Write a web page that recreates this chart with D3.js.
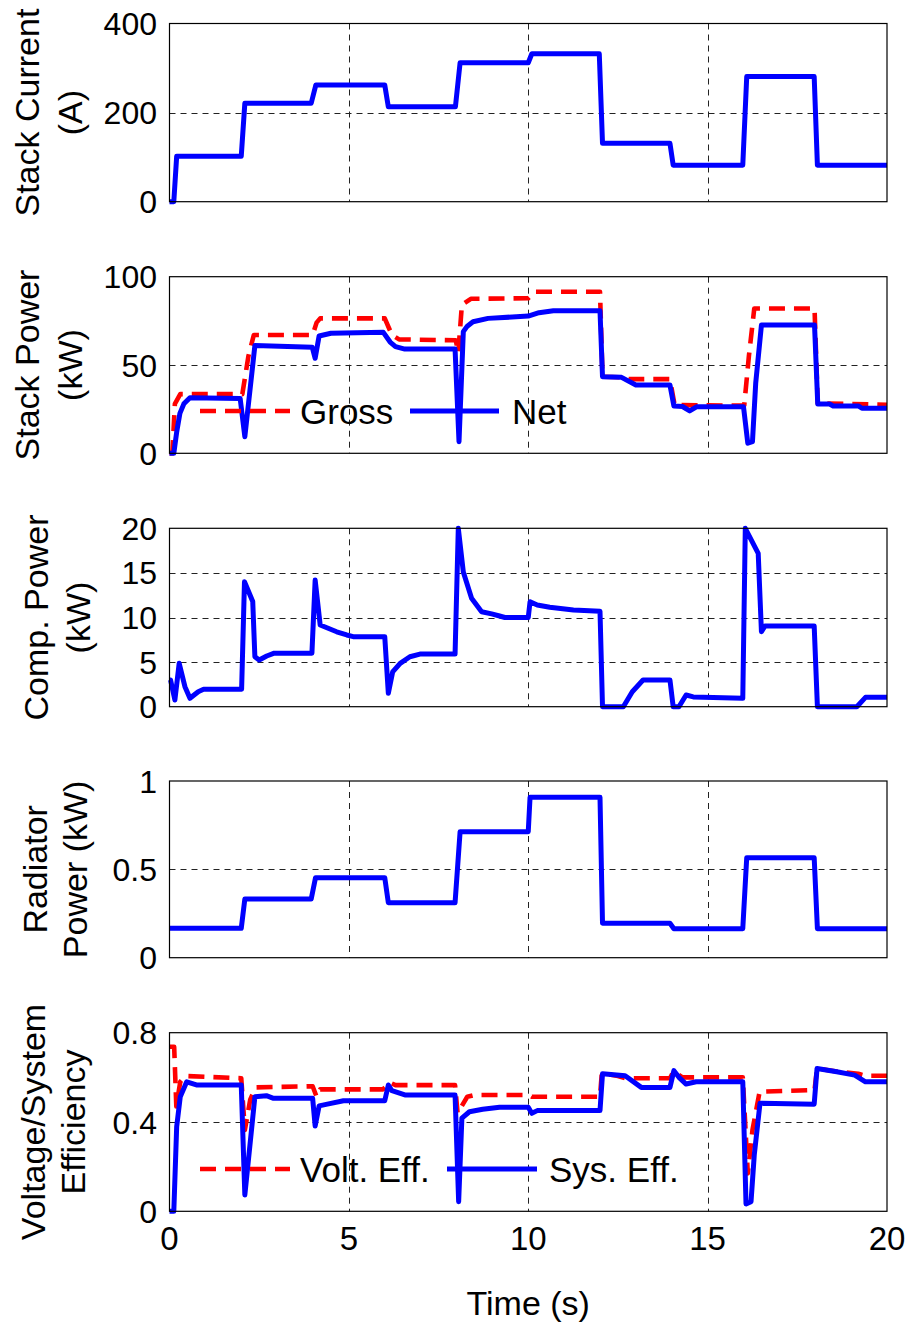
<!DOCTYPE html>
<html>
<head>
<meta charset="utf-8">
<script src="https://cdn.jsdelivr.net/npm/d3@7"></script>
<style>
body { margin: 0; background: #fff; }
svg text { font-family: "Liberation Sans", Arial, sans-serif; fill: #000; }
</style>
</head>
<body>
<svg id="chart" width="911" height="1327"></svg>
<script>

// ---- data ----
var timeTicks = [0, 5, 10, 15, 20];

var curT = [0, 0.12, 0.2, 2.0, 2.1, 3.95, 4.08, 6.0, 6.1, 7.97, 8.1, 10.0, 10.1, 11.98, 12.07, 13.95, 14.04, 15.98, 16.09, 17.97, 18.06, 20];
var curA = [0, 0, 102, 102, 221, 221, 262, 262, 213, 213, 312, 312, 332, 332, 131, 131, 82, 82, 281, 281, 82, 82];

var grossT = [0, 0.08, 0.15, 0.3, 2.03, 2.2, 2.35, 3.99, 4.1, 4.2, 6.0, 6.2, 6.4, 7.98, 8.05, 8.15, 8.4, 10.0, 10.2, 12.0, 12.07, 12.6, 12.8, 13.95, 14.08, 16.02, 16.15, 16.3, 17.98, 18.07, 20];
var grossP = [0, 0, 28, 33.5, 33.5, 55, 67, 67, 74, 76.4, 76.4, 67, 64.5, 64, 57, 84, 87.5, 87.8, 91.5, 91.5, 43.4, 43, 42, 42, 27.3, 27, 55, 82, 82, 28.3, 27.5];

var netT = [0, 0.12, 0.2, 0.29, 0.4, 0.57, 1.97, 2.1, 2.38, 3.98, 4.06, 4.17, 4.5, 5.96, 6.15, 6.3, 6.56, 7.96, 8.07, 8.19, 8.3, 8.46, 8.88, 10.0, 10.3, 10.7, 12.0, 12.07, 12.6, 13.0, 13.95, 14.06, 14.3, 14.5, 14.7, 16.0, 16.12, 16.25, 16.34, 16.5, 17.98, 18.07, 18.4, 18.5, 19.2, 19.3, 20];
var netP = [0, 0, 12, 22.6, 28, 31.5, 31, 9.4, 61, 60, 53.8, 66.4, 68, 68.5, 63, 60.4, 59, 59, 6.6, 68.9, 72, 74.5, 76.4, 77.7, 79.6, 80.7, 80.7, 43.4, 43, 38.7, 38.7, 26.8, 26.5, 24, 26.4, 26.4, 5.7, 6.6, 39.6, 72.6, 72.6, 27.9, 27.9, 26.8, 26.8, 25.5, 25.5];

var compT = [0, 0.03, 0.15, 0.27, 0.43, 0.57, 0.8, 0.95, 2.01, 2.09, 2.32, 2.38, 2.5, 2.71, 2.92, 3.97, 4.06, 4.2, 4.66, 4.94, 5.12, 6.0, 6.1, 6.22, 6.43, 6.7, 6.98, 7.96, 8.05, 8.19, 8.42, 8.7, 8.98, 9.2, 9.35, 10.0, 10.05, 10.25, 10.6, 11.26, 12.0, 12.07, 12.65, 12.9, 13.2, 13.95, 14.04, 14.2, 14.4, 14.6, 15.98, 16.05, 16.41, 16.5, 16.6, 17.97, 18.06, 19.16, 19.4, 20];
var compP = [3.0, 3.0, 0.75, 4.86, 2.24, 0.94, 1.68, 1.95, 1.95, 14.0, 11.8, 5.6, 5.23, 5.68, 6.0, 6.0, 14.2, 9.16, 8.4, 8.04, 7.85, 7.85, 1.5, 3.9, 4.86, 5.6, 5.9, 5.9, 20, 15.1, 12.15, 10.65, 10.4, 10.17, 10.0, 10.0, 11.77, 11.4, 11.14, 10.84, 10.7, 0, 0, 1.68, 3.0, 3.0, 0, 0, 1.31, 1.1, 0.94, 20, 17.2, 8.4, 9.05, 9.05, 0, 0, 1.05, 1.05];

var radT = [0, 2.0, 2.1, 3.95, 4.07, 6.0, 6.1, 7.96, 8.1, 10.0, 10.05, 12.0, 12.07, 13.95, 14.06, 15.98, 16.09, 17.97, 18.06, 20];
var radP = [0.166, 0.166, 0.332, 0.332, 0.453, 0.453, 0.311, 0.311, 0.713, 0.713, 0.908, 0.908, 0.195, 0.195, 0.164, 0.164, 0.566, 0.566, 0.164, 0.164];

var voltT = [0, 0.13, 0.19, 0.3, 0.44, 2.0, 2.1, 2.25, 2.4, 3.99, 4.1, 4.2, 5.95, 6.15, 6.3, 7.96, 8.03, 8.3, 8.5, 10.0, 10.1, 12.0, 12.05, 12.5, 12.7, 13.95, 14.05, 14.3, 15.98, 16.12, 16.25, 16.45, 17.98, 18.05, 18.6, 19.2, 19.4, 20];
var voltE = [0.737, 0.737, 0.47, 0.58, 0.606, 0.596, 0.364, 0.5, 0.555, 0.56, 0.513, 0.546, 0.546, 0.576, 0.565, 0.565, 0.44, 0.513, 0.521, 0.521, 0.513, 0.513, 0.618, 0.606, 0.596, 0.596, 0.626, 0.6, 0.6, 0.17, 0.364, 0.536, 0.543, 0.64, 0.626, 0.616, 0.607, 0.607];

var sysT = [0, 0.12, 0.2, 0.3, 0.48, 0.75, 2.0, 2.1, 2.38, 2.7, 2.9, 3.99, 4.06, 4.17, 4.4, 4.85, 6.0, 6.1, 6.2, 6.56, 7.96, 8.06, 8.15, 8.36, 8.73, 9.2, 10.0, 10.1, 10.25, 12.0, 12.07, 12.7, 13.15, 13.95, 14.06, 14.2, 14.4, 14.68, 15.98, 16.07, 16.21, 16.3, 16.46, 17.97, 18.05, 18.6, 19.1, 19.4, 20];
var sysE = [0, 0, 0.379, 0.513, 0.58, 0.566, 0.566, 0.073, 0.513, 0.518, 0.506, 0.506, 0.382, 0.472, 0.48, 0.495, 0.495, 0.566, 0.54, 0.521, 0.521, 0.043, 0.417, 0.446, 0.457, 0.466, 0.466, 0.439, 0.451, 0.451, 0.616, 0.607, 0.555, 0.555, 0.63, 0.6, 0.57, 0.58, 0.58, 0.033, 0.043, 0.252, 0.484, 0.48, 0.64, 0.625, 0.61, 0.58, 0.58];

var curTicks = [0, 200, 400];
var powTicks = [0, 50, 100];
var compTicks = [0, 5, 10, 15, 20];
var radTicks = [0, 0.5, 1];
var effTicks = [0, 0.4, 0.8];


var svg = d3.select("#chart");

var x = d3.scaleLinear().domain([0, 20]).range([169.5, 887]);

function zip(ts, vs){
    return ts.map(function(t, i){ return [t, vs[i]]; });
}

function fmt(v){
    return String(v);
}

// one subplot box with grid, y ticks and a two line y label
function drawPanel(top, bottom, ymax, ticks, label1, label2, labelX1, labelX2){
    var y = d3.scaleLinear().domain([0, ymax]).range([bottom, top]);
    var g = svg.append("g");

    // grid
    g.selectAll(".vgrid")
        .data(timeTicks.slice(1, -1))
        .enter().append("line")
        .attr("x1", function(d){ return Math.round(x(d)) + 0.5; })
        .attr("x2", function(d){ return Math.round(x(d)) + 0.5; })
        .attr("y1", top).attr("y2", bottom)
        .style("stroke", "#222").style("stroke-width", 1)
        .style("stroke-dasharray", "6,5");

    g.selectAll(".hgrid")
        .data(ticks.slice(1, -1))
        .enter().append("line")
        .attr("x1", x(0)).attr("x2", x(20))
        .attr("y1", function(d){ return Math.round(y(d)) + 0.5; })
        .attr("y2", function(d){ return Math.round(y(d)) + 0.5; })
        .style("stroke", "#222").style("stroke-width", 1)
        .style("stroke-dasharray", "6,5");

    // y tick labels
    g.selectAll(".ytl")
        .data(ticks)
        .enter().append("text")
        .attr("x", 157)
        .attr("y", function(d){ return y(d); })
        .attr("dy", "0.36em")
        .attr("text-anchor", "end")
        .style("font-size", "32px")
        .text(fmt);

    // y label, two lines
    var cy = (top + bottom) / 2;
    g.append("text")
        .attr("transform", "translate(" + labelX1 + "," + cy + ") rotate(-90)")
        .attr("dy", "0.36em")
        .attr("text-anchor", "middle")
        .style("font-size", "34px")
        .text(label1);
    g.append("text")
        .attr("transform", "translate(" + labelX2 + "," + cy + ") rotate(-90)")
        .attr("dy", "0.36em")
        .attr("text-anchor", "middle")
        .style("font-size", "34px")
        .text(label2);

    return {g: g, y: y, top: top, bottom: bottom};
}

function drawBox(p){
    p.g.append("rect")
        .attr("x", x(0)).attr("y", p.top)
        .attr("width", x(20) - x(0)).attr("height", p.bottom - p.top)
        .style("fill", "none").style("stroke", "#000").style("stroke-width", 1.2);
}

function drawSeries(p, ts, vs, color, dashed){
    var line = d3.line()
        .x(function(d){ return x(d[0]); })
        .y(function(d){ return p.y(d[1]); });
    var path = p.g.append("path")
        .datum(zip(ts, vs))
        .attr("d", line)
        .style("fill", "none")
        .style("stroke", color)
        .style("stroke-width", dashed ? 4.6 : 5)
        .style("stroke-linejoin", "round");
    if (dashed) {
        path.style("stroke-dasharray", "16,9");
    }
}

function drawLegend(p, yPos, items){
    items.forEach(function(it){
        var l = p.g.append("line")
            .attr("x1", it.x1).attr("x2", it.x2)
            .attr("y1", yPos).attr("y2", yPos)
            .style("stroke", it.color)
            .style("stroke-width", it.dashed ? 4.6 : 5);
        if (it.dashed) l.style("stroke-dasharray", "16,9");
        p.g.append("text")
            .attr("x", it.tx).attr("y", yPos)
            .attr("dy", "0.36em")
            .style("font-size", "35px")
            .text(it.label);
    });
}

var p1 = drawPanel(23.5, 201.7, 400, curTicks, "Stack Current", "(A)", 27, 70);
drawSeries(p1, curT, curA, "#0000ff", false);
drawBox(p1);

var p2 = drawPanel(276.7, 453.3, 100, powTicks, "Stack Power", "(kW)", 27, 70);
drawSeries(p2, grossT, grossP, "#ff0000", true);
drawSeries(p2, netT, netP, "#0000ff", false);
drawBox(p2);
drawLegend(p2, 411, [
    {x1: 200, x2: 290, tx: 300, color: "#ff0000", dashed: true, label: "Gross"},
    {x1: 410, x2: 499, tx: 512, color: "#0000ff", dashed: false, label: "Net"}
]);

var p3 = drawPanel(528.3, 706.7, 20, compTicks, "Comp. Power", "(kW)", 36, 78);
drawSeries(p3, compT, compP, "#0000ff", false);
drawBox(p3);

var p4 = drawPanel(781, 957.7, 1, radTicks, "Radiator", "Power (kW)", 35, 75);
drawSeries(p4, radT, radP, "#0000ff", false);
drawBox(p4);

var p5 = drawPanel(1032.7, 1211.3, 0.8, effTicks, "Voltage/System", "Efficiency", 33, 73);
drawSeries(p5, voltT, voltE, "#ff0000", true);
drawSeries(p5, sysT, sysE, "#0000ff", false);
drawBox(p5);
drawLegend(p5, 1169, [
    {x1: 200, x2: 290, tx: 300, color: "#ff0000", dashed: true, label: "Volt. Eff."},
    {x1: 447, x2: 537, tx: 549, color: "#0000ff", dashed: false, label: "Sys. Eff."}
]);

// time axis labels under the last panel
svg.selectAll(".xtl")
    .data(timeTicks)
    .enter().append("text")
    .attr("x", function(d){ return x(d); })
    .attr("y", 1250)
    .attr("text-anchor", "middle")
    .style("font-size", "33px")
    .text(fmt);

svg.append("text")
    .attr("x", (x(0) + x(20)) / 2)
    .attr("y", 1315)
    .attr("text-anchor", "middle")
    .style("font-size", "34px")
    .text("Time (s)");

</script>
</body>
</html>
